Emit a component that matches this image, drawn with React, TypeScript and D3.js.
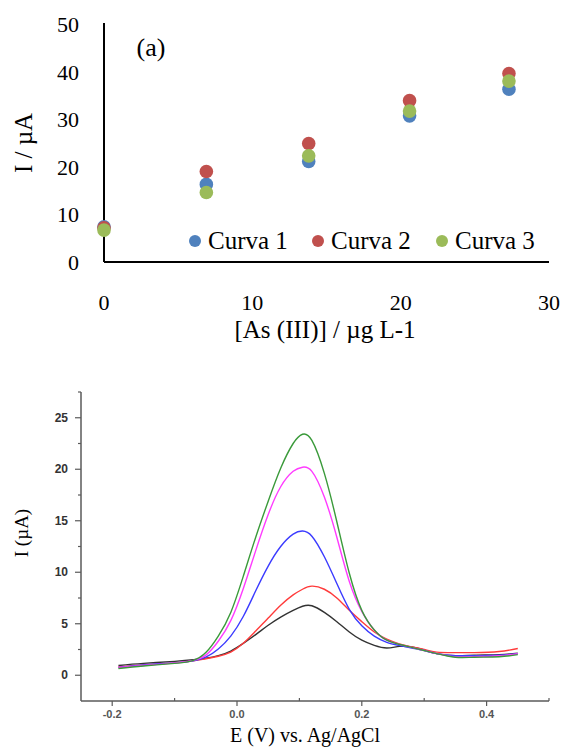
import React from "react";
import * as d3 from "d3";

// ---------- Top chart data ----------
const concX = [0, 6.9, 13.8, 20.6, 27.3];
const curva1 = [7.4, 16.3, 21.1, 30.7, 36.3];
const curva2 = [7.2, 19.0, 24.9, 33.9, 39.6];
const curva3 = [6.7, 14.6, 22.3, 31.7, 38.0];
const seriesNames = ["Curva 1", "Curva 2", "Curva 3"];
const seriesColors = ["#4F81BD", "#C0504D", "#9BBB59"];
const topYTicks = [0, 10, 20, 30, 40, 50];
const topXTicks = [0, 10, 20, 30];

// ---------- Bottom chart data ----------
const potE = [-0.19, -0.15, -0.10, -0.07, -0.05, -0.03, -0.01, 0.01, 0.03, 0.05, 0.07, 0.09, 0.105, 0.12, 0.14, 0.16, 0.18, 0.20, 0.22, 0.24, 0.26, 0.28, 0.30, 0.32, 0.35, 0.38, 0.42, 0.45];
const curBlack = [0.95, 1.15, 1.35, 1.5, 1.65, 1.9, 2.35, 3.1, 3.95, 4.85, 5.65, 6.3, 6.7, 6.75, 6.1, 5.2, 4.2, 3.4, 2.9, 2.65, 2.8, 2.75, 2.45, 2.1, 1.9, 1.95, 2.0, 2.15];
const curRed = [0.8, 1.0, 1.2, 1.4, 1.6, 1.85, 2.25, 3.1, 4.3, 5.55, 6.8, 7.8, 8.35, 8.65, 8.35, 7.5, 6.3, 5.2, 4.2, 3.5, 3.05, 2.75, 2.5, 2.25, 2.2, 2.2, 2.3, 2.6];
const curBlue = [0.75, 1.0, 1.2, 1.4, 1.75, 2.55, 3.8, 5.7, 8.2, 10.6, 12.5, 13.7, 14.0, 13.5, 11.5, 8.9, 6.4, 4.8, 3.8, 3.2, 2.9, 2.65, 2.4, 2.1, 1.9, 1.9, 1.95, 2.1];
const curMagenta = [0.75, 0.95, 1.2, 1.45, 1.95, 3.3, 5.3, 8.4, 12.1, 15.6, 18.3, 19.8, 20.2, 19.8, 17.3, 13.4, 9.1, 6.2, 4.4, 3.4, 3.0, 2.7, 2.4, 2.1, 1.8, 1.8, 1.9, 2.1];
const curGreen = [0.65, 0.9, 1.15, 1.45, 2.2, 3.8, 6.1, 9.6, 13.4, 16.9, 20.1, 22.5, 23.4, 22.8, 19.6, 14.9, 9.9, 6.3, 4.4, 3.4, 3.0, 2.7, 2.4, 2.1, 1.75, 1.75, 1.8, 2.0];
const curveSet = [curBlack, curRed, curBlue, curMagenta, curGreen];
const curveColors = ["#333333", "#ff3b3b", "#3b3bff", "#ff3bff", "#3a9a3a"];
const botYMajor = [0, 5, 10, 15, 20, 25];
const botYMinor = [2.5, 7.5, 12.5, 17.5, 22.5, 27.5];
const botXMajor = [-0.2, 0.0, 0.2, 0.4];
const botXMinor = [-0.1, 0.1, 0.3, 0.5];

export default function App() {
  const tx = d3.scaleLinear().domain([0, 30]).range([104, 549]);
  const ty = d3.scaleLinear().domain([0, 50]).range([262, 24]);
  const allSeries = [curva1, curva2, curva3];

  const bx = d3.scaleLinear().domain([-0.25, 0.5]).range([81, 549]);
  const by = d3.scaleLinear().domain([-2.5, 27.5]).range([701, 392]);
  const line = d3
    .line<[number, number]>()
    .x((d) => bx(d[0]))
    .y((d) => by(d[1]))
    .curve(d3.curveNatural);

  const serif = "'Liberation Serif', 'Times New Roman', serif";
  const sans = "'Liberation Sans', Arial, sans-serif";
  const axisGray = "#5a5a5a";

  return (
    <svg
      width={566}
      height={747}
      style={{ position: "absolute", left: 0, top: 0, background: "#fff" }}
    >
      {/* ================= TOP CHART ================= */}
      <g fontFamily={serif}>
        <line x1={tx(0)} x2={tx(0)} y1={ty(50) - 1} y2={ty(0)} stroke="#000" strokeWidth={2} />
        <line x1={tx(0)} x2={tx(30)} y1={ty(0)} y2={ty(0)} stroke="#000" strokeWidth={2} />
        {topYTicks.map((v) => (
          <text key={"ty" + v} x={79} y={ty(v) + 8} textAnchor="end" fontSize={22}>
            {v}
          </text>
        ))}
        {topXTicks.map((v) => (
          <text key={"tx" + v} x={tx(v)} y={310} textAnchor="middle" fontSize={22}>
            {v}
          </text>
        ))}
        <text x={151} y={56} textAnchor="middle" fontSize={26}>(a)</text>
        <text x={325} y={338} textAnchor="middle" fontSize={25}>[As (III)] / µg L-1</text>
        <text transform="translate(32,143) rotate(-90)" textAnchor="middle" fontSize={25}>I / µA</text>

        {allSeries.map((s, si) =>
          s.map((v, i) => (
            <circle key={"p" + si + "-" + i} cx={tx(concX[i])} cy={ty(v)} r={6.8} fill={seriesColors[si]} />
          ))
        )}

        {seriesNames.map((n, i) => {
          const lx = [195, 318, 442][i];
          return (
            <g key={"lg" + i}>
              <circle cx={lx} cy={241} r={6} fill={seriesColors[i]} />
              <text x={lx + 13} y={249} fontSize={25}>{n}</text>
            </g>
          );
        })}
      </g>

      {/* ================= BOTTOM CHART ================= */}
      <g>
        {curveSet.map((c, ci) => (
          <path
            key={"c" + ci}
            d={line(potE.map((e, i) => [e, c[i]] as [number, number])) || ""}
            fill="none"
            stroke={curveColors[ci]}
            strokeWidth={1.4}
          />
        ))}
        <line x1={bx(-0.25)} x2={bx(-0.25)} y1={by(27.5)} y2={by(-2.5)} stroke={axisGray} strokeWidth={1.5} />
        <line x1={bx(-0.25)} x2={bx(0.5)} y1={by(-2.5)} y2={by(-2.5)} stroke={axisGray} strokeWidth={1.5} />
        {botYMajor.map((v) => (
          <g key={"bym" + v}>
            <line x1={bx(-0.25) - 6} x2={bx(-0.25)} y1={by(v)} y2={by(v)} stroke={axisGray} strokeWidth={1.2} />
            <text x={68} y={by(v) + 4} textAnchor="end" fontSize={12} fontWeight="bold" fontFamily={sans} fill="#333">
              {v}
            </text>
          </g>
        ))}
        {botYMinor.map((v) => (
          <line key={"byn" + v} x1={bx(-0.25) - 3} x2={bx(-0.25)} y1={by(v)} y2={by(v)} stroke={axisGray} strokeWidth={1.2} />
        ))}
        {botXMajor.map((v) => (
          <g key={"bxm" + v}>
            <line x1={bx(v)} x2={bx(v)} y1={by(-2.5)} y2={by(-2.5) + 5} stroke={axisGray} strokeWidth={1.2} />
            <text x={bx(v)} y={718} textAnchor="middle" fontSize={11} fontWeight="bold" fontFamily={sans} fill="#555">
              {v.toFixed(1)}
            </text>
          </g>
        ))}
        {botXMinor.map((v) => (
          <line key={"bxn" + v} x1={bx(v)} x2={bx(v)} y1={by(-2.5) - 3} y2={by(-2.5)} stroke={axisGray} strokeWidth={1.2} />
        ))}
        <text x={305} y={742} textAnchor="middle" fontSize={20} fontFamily={serif}>E (V) vs. Ag/AgCl</text>
        <text transform="translate(28,533) rotate(-90)" textAnchor="middle" fontSize={19} fontFamily={serif}>I (µA)</text>
      </g>
    </svg>
  );
}
